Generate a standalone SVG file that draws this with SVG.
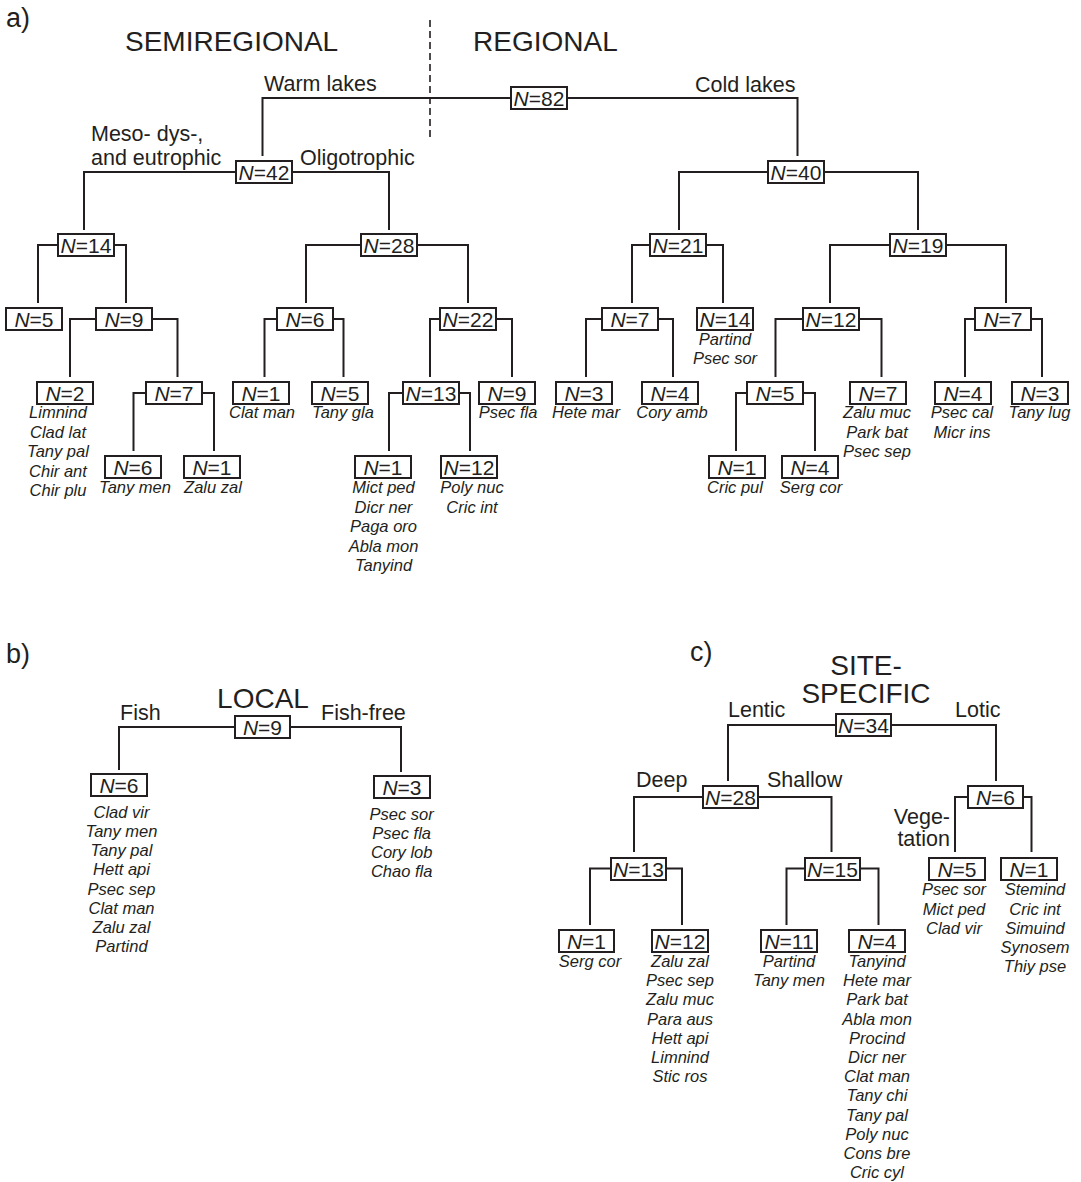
<svg xmlns="http://www.w3.org/2000/svg" width="1081" height="1182" viewBox="0 0 1081 1182">
<style>
.ln{stroke:#231f20;stroke-width:2;fill:none}
.dash{stroke:#231f20;stroke-width:1.6;fill:none;stroke-dasharray:7 4}
.box{fill:#fff;stroke:#231f20;stroke-width:2}
text{font-family:"Liberation Sans",Arial,sans-serif;fill:#231f20}
.n{font-size:21px;text-anchor:middle}
.sp{font-size:16.5px;font-style:italic;text-anchor:middle}
.lb{font-size:21.5px}
.tt{font-size:28px}
.pl{font-size:27px}
</style>
<rect width="1081" height="1182" fill="#fff"/>

<!-- panel titles -->
<text class="pl" x="6" y="27">a)</text>
<text class="tt" x="125" y="51">SEMIREGIONAL</text>
<text class="tt" x="473" y="51">REGIONAL</text>
<line class="dash" x1="430" y1="20" x2="430" y2="138"/>
<text class="lb" x="264" y="91">Warm lakes</text>
<text class="lb" x="695" y="92">Cold lakes</text>
<text class="lb" x="91" y="141">Meso- dys-,</text>
<text class="lb" x="91" y="165">and eutrophic</text>
<text class="lb" x="300" y="165">Oligotrophic</text>

<text class="pl" x="6" y="663">b)</text>
<text class="tt" x="263" y="708" text-anchor="middle">LOCAL</text>
<text class="lb" x="120" y="720">Fish</text>
<text class="lb" x="321" y="720">Fish-free</text>

<text class="pl" x="690" y="661">c)</text>
<text class="tt" x="866" y="675" text-anchor="middle">SITE-</text>
<text class="tt" x="866" y="703" text-anchor="middle">SPECIFIC</text>
<text class="lb" x="728" y="717">Lentic</text>
<text class="lb" x="955" y="717">Lotic</text>
<text class="lb" x="636" y="787">Deep</text>
<text class="lb" x="767" y="787">Shallow</text>
<text class="lb" x="950" y="824" text-anchor="end">Vege-</text>
<text class="lb" x="950" y="846" text-anchor="end">tation</text>

<!-- connectors -->
<g id="connectors">
<path class="ln" d="M262.5,156 V98 H511 M567,98 H797.5 V156"/>
<path class="ln" d="M84,230 V172 H236 M292,172 H389 V230"/>
<path class="ln" d="M679,230 V172 H768 M824,172 H918 V230"/>
<path class="ln" d="M38,303 V245 H58 M114,245 H126 V303"/>
<path class="ln" d="M306,303 V245 H361 M417,245 H468 V303"/>
<path class="ln" d="M632,303 V245 H650 M706,245 H723 V303"/>
<path class="ln" d="M830,303 V245 H890 M946,245 H1006 V303"/>
<path class="ln" d="M70,377 V319 H96 M152,319 H177.5 V377"/>
<path class="ln" d="M264.5,377 V319 H277 M333,319 H343.5 V377"/>
<path class="ln" d="M430,377 V319 H440 M496,319 H512 V377"/>
<path class="ln" d="M586,377 V319 H602 M658,319 H673 V377"/>
<path class="ln" d="M775.5,377 V319 H803 M859,319 H881.5 V377"/>
<path class="ln" d="M965,377 V319 H975 M1031,319 H1042 V377"/>
<path class="ln" d="M133.5,451 V393 H146 M202,393 H214 V451"/>
<path class="ln" d="M389,451 V393 H403 M459,393 H470 V451"/>
<path class="ln" d="M736,451 V393 H747 M803,393 H815 V451"/>
<path class="ln" d="M119,770 V727 H235 M290,727 H401 V772"/>
<path class="ln" d="M728,781 V725 H836 M891,725 H996 V781"/>
<path class="ln" d="M634,852 V797 H703 M758,797 H831.5 V852"/>
<path class="ln" d="M955,852 V797 H968 M1023,797 H1031.5 V852"/>
<path class="ln" d="M590,925 V868.5 H611 M666,868.5 H682 V925"/>
<path class="ln" d="M786.5,925 V868.5 H805 M860,868.5 H878.5 V925"/>
</g>

<!-- panel a nodes -->
<g id="a82"><rect class="box" x="511" y="87" width="56" height="22"/><text class="n" x="539" y="105.5"><tspan font-style="italic">N</tspan>=82</text></g>
<g id="a42"><rect class="box" x="236" y="161" width="56" height="22"/><text class="n" x="264" y="179.5"><tspan font-style="italic">N</tspan>=42</text></g>
<g id="a40"><rect class="box" x="768" y="161" width="56" height="22"/><text class="n" x="796" y="179.5"><tspan font-style="italic">N</tspan>=40</text></g>
<g id="a14"><rect class="box" x="58" y="234" width="56" height="22"/><text class="n" x="86" y="252.5"><tspan font-style="italic">N</tspan>=14</text></g>
<g id="a28"><rect class="box" x="361" y="234" width="56" height="22"/><text class="n" x="389" y="252.5"><tspan font-style="italic">N</tspan>=28</text></g>
<g id="a21"><rect class="box" x="650" y="234" width="56" height="22"/><text class="n" x="678" y="252.5"><tspan font-style="italic">N</tspan>=21</text></g>
<g id="a19"><rect class="box" x="890" y="234" width="56" height="22"/><text class="n" x="918" y="252.5"><tspan font-style="italic">N</tspan>=19</text></g>

<g id="a5"><rect class="box" x="6" y="308" width="56" height="22"/><text class="n" x="34" y="326.5"><tspan font-style="italic">N</tspan>=5</text></g>
<g id="a9"><rect class="box" x="96" y="308" width="56" height="22"/><text class="n" x="124" y="326.5"><tspan font-style="italic">N</tspan>=9</text></g>
<g id="a6"><rect class="box" x="277" y="308" width="56" height="22"/><text class="n" x="305" y="326.5"><tspan font-style="italic">N</tspan>=6</text></g>
<g id="a22"><rect class="box" x="440" y="308" width="56" height="22"/><text class="n" x="468" y="326.5"><tspan font-style="italic">N</tspan>=22</text></g>
<g id="a7r"><rect class="box" x="602" y="308" width="56" height="22"/><text class="n" x="630" y="326.5"><tspan font-style="italic">N</tspan>=7</text></g>
<g id="a14r"><rect class="box" x="697" y="308" width="56" height="22"/><text class="n" x="725" y="326.5"><tspan font-style="italic">N</tspan>=14</text>
<text class="sp" x="725" y="345">Partind</text><text class="sp" x="725" y="364">Psec sor</text></g>
<g id="a12r"><rect class="box" x="803" y="308" width="56" height="22"/><text class="n" x="831" y="326.5"><tspan font-style="italic">N</tspan>=12</text></g>
<g id="a7rr"><rect class="box" x="975" y="308" width="56" height="22"/><text class="n" x="1003" y="326.5"><tspan font-style="italic">N</tspan>=7</text></g>

<g id="a2"><rect class="box" x="37" y="382" width="56" height="22"/><text class="n" x="65" y="400.5"><tspan font-style="italic">N</tspan>=2</text>
<text class="sp" x="58" y="418">Limnind</text><text class="sp" x="58" y="437.5">Clad lat</text><text class="sp" x="58" y="457">Tany pal</text><text class="sp" x="58" y="476.5">Chir ant</text><text class="sp" x="58" y="496">Chir plu</text></g>
<g id="a7l"><rect class="box" x="146" y="382" width="56" height="22"/><text class="n" x="174" y="400.5"><tspan font-style="italic">N</tspan>=7</text></g>
<g id="a1clat"><rect class="box" x="233" y="382" width="56" height="22"/><text class="n" x="261" y="400.5"><tspan font-style="italic">N</tspan>=1</text>
<text class="sp" x="262" y="418">Clat man</text></g>
<g id="a5tany"><rect class="box" x="312" y="382" width="56" height="22"/><text class="n" x="340" y="400.5"><tspan font-style="italic">N</tspan>=5</text>
<text class="sp" x="343" y="418">Tany gla</text></g>
<g id="a13"><rect class="box" x="403" y="382" width="56" height="22"/><text class="n" x="431" y="400.5"><tspan font-style="italic">N</tspan>=13</text></g>
<g id="a9psec"><rect class="box" x="479" y="382" width="56" height="22"/><text class="n" x="507" y="400.5"><tspan font-style="italic">N</tspan>=9</text>
<text class="sp" x="508" y="418">Psec fla</text></g>
<g id="a3hete"><rect class="box" x="556" y="382" width="56" height="22"/><text class="n" x="584" y="400.5"><tspan font-style="italic">N</tspan>=3</text>
<text class="sp" x="586" y="418">Hete mar</text></g>
<g id="a4cory"><rect class="box" x="642" y="382" width="56" height="22"/><text class="n" x="670" y="400.5"><tspan font-style="italic">N</tspan>=4</text>
<text class="sp" x="672" y="418">Cory amb</text></g>
<g id="a5r"><rect class="box" x="747" y="382" width="56" height="22"/><text class="n" x="775" y="400.5"><tspan font-style="italic">N</tspan>=5</text></g>
<g id="a7zalu"><rect class="box" x="850" y="382" width="56" height="22"/><text class="n" x="878" y="400.5"><tspan font-style="italic">N</tspan>=7</text>
<text class="sp" x="877" y="418">Zalu muc</text><text class="sp" x="877" y="437.5">Park bat</text><text class="sp" x="877" y="457">Psec sep</text></g>
<g id="a4psec"><rect class="box" x="935" y="382" width="56" height="22"/><text class="n" x="963" y="400.5"><tspan font-style="italic">N</tspan>=4</text>
<text class="sp" x="962" y="418">Psec cal</text><text class="sp" x="962" y="437.5">Micr ins</text></g>
<g id="a3tany"><rect class="box" x="1012" y="382" width="56" height="22"/><text class="n" x="1040" y="400.5"><tspan font-style="italic">N</tspan>=3</text>
<text class="sp" x="1039.5" y="418">Tany lug</text></g>

<g id="a6tany"><rect class="box" x="105" y="456" width="56" height="22"/><text class="n" x="133" y="474.5"><tspan font-style="italic">N</tspan>=6</text>
<text class="sp" x="135" y="493">Tany men</text></g>
<g id="a1zalu"><rect class="box" x="184" y="456" width="56" height="22"/><text class="n" x="212" y="474.5"><tspan font-style="italic">N</tspan>=1</text>
<text class="sp" x="213" y="493">Zalu zal</text></g>
<g id="a1mict"><rect class="box" x="355" y="456" width="56" height="22"/><text class="n" x="383" y="474.5"><tspan font-style="italic">N</tspan>=1</text>
<text class="sp" x="383.5" y="493">Mict ped</text><text class="sp" x="383.5" y="512.5">Dicr ner</text><text class="sp" x="383.5" y="532">Paga oro</text><text class="sp" x="383.5" y="551.5">Abla mon</text><text class="sp" x="383.5" y="571">Tanyind</text></g>
<g id="a12poly"><rect class="box" x="441" y="456" width="56" height="22"/><text class="n" x="469" y="474.5"><tspan font-style="italic">N</tspan>=12</text>
<text class="sp" x="472" y="493">Poly nuc</text><text class="sp" x="472" y="512.5">Cric int</text></g>
<g id="a1cric"><rect class="box" x="709" y="456" width="56" height="22"/><text class="n" x="737" y="474.5"><tspan font-style="italic">N</tspan>=1</text>
<text class="sp" x="735" y="493">Cric pul</text></g>
<g id="a4serg"><rect class="box" x="782" y="456" width="56" height="22"/><text class="n" x="810" y="474.5"><tspan font-style="italic">N</tspan>=4</text>
<text class="sp" x="811" y="493">Serg cor</text></g>

<!-- panel b nodes -->
<g id="b9"><rect class="box" x="235" y="716" width="55" height="22"/><text class="n" x="262.5" y="734.5"><tspan font-style="italic">N</tspan>=9</text></g>
<g id="b6"><rect class="box" x="91" y="774" width="56" height="22"/><text class="n" x="119" y="792.5"><tspan font-style="italic">N</tspan>=6</text>
<text class="sp" x="121.5" y="818">Clad vir</text><text class="sp" x="121.5" y="837.2">Tany men</text><text class="sp" x="121.5" y="856.3">Tany pal</text><text class="sp" x="121.5" y="875.4">Hett api</text><text class="sp" x="121.5" y="894.5">Psec sep</text><text class="sp" x="121.5" y="913.6">Clat man</text><text class="sp" x="121.5" y="932.7">Zalu zal</text><text class="sp" x="121.5" y="951.8">Partind</text></g>
<g id="b3"><rect class="box" x="374" y="776" width="56" height="22"/><text class="n" x="402" y="794.5"><tspan font-style="italic">N</tspan>=3</text>
<text class="sp" x="401.7" y="820">Psec sor</text><text class="sp" x="401.7" y="839">Psec fla</text><text class="sp" x="401.7" y="858">Cory lob</text><text class="sp" x="401.7" y="877">Chao fla</text></g>

<!-- panel c nodes -->
<g id="c34"><rect class="box" x="836" y="714" width="55" height="22"/><text class="n" x="863.5" y="732.5"><tspan font-style="italic">N</tspan>=34</text></g>
<g id="c28"><rect class="box" x="703" y="786" width="55" height="22"/><text class="n" x="730.5" y="804.5"><tspan font-style="italic">N</tspan>=28</text></g>
<g id="c6"><rect class="box" x="968" y="786" width="55" height="22"/><text class="n" x="995.5" y="804.5"><tspan font-style="italic">N</tspan>=6</text></g>
<g id="c13"><rect class="box" x="611" y="858" width="55" height="22"/><text class="n" x="638.5" y="876.5"><tspan font-style="italic">N</tspan>=13</text></g>
<g id="c15"><rect class="box" x="805" y="858" width="55" height="22"/><text class="n" x="832.5" y="876.5"><tspan font-style="italic">N</tspan>=15</text></g>
<g id="c5"><rect class="box" x="929" y="858" width="56" height="22"/><text class="n" x="957" y="876.5"><tspan font-style="italic">N</tspan>=5</text>
<text class="sp" x="954" y="895">Psec sor</text><text class="sp" x="954" y="914.5">Mict ped</text><text class="sp" x="954" y="934">Clad vir</text></g>
<g id="c1r"><rect class="box" x="1001" y="858" width="56" height="22"/><text class="n" x="1029" y="876.5"><tspan font-style="italic">N</tspan>=1</text>
<text class="sp" x="1035" y="895">Stemind</text><text class="sp" x="1035" y="914.5">Cric int</text><text class="sp" x="1035" y="934">Simuind</text><text class="sp" x="1035" y="953">Synosem</text><text class="sp" x="1035" y="972">Thiy pse</text></g>
<g id="c1serg"><rect class="box" x="559" y="930" width="55" height="22"/><text class="n" x="586.5" y="948.5"><tspan font-style="italic">N</tspan>=1</text>
<text class="sp" x="590" y="967">Serg cor</text></g>
<g id="c12"><rect class="box" x="652" y="930" width="56" height="22"/><text class="n" x="680" y="948.5"><tspan font-style="italic">N</tspan>=12</text>
<text class="sp" x="680" y="967">Zalu zal</text><text class="sp" x="680" y="986.2">Psec sep</text><text class="sp" x="680" y="1005.4">Zalu muc</text><text class="sp" x="680" y="1024.6">Para aus</text><text class="sp" x="680" y="1043.8">Hett api</text><text class="sp" x="680" y="1063">Limnind</text><text class="sp" x="680" y="1082.2">Stic ros</text></g>
<g id="c11"><rect class="box" x="761" y="930" width="56" height="22"/><text class="n" x="789" y="948.5"><tspan font-style="italic">N</tspan>=11</text>
<text class="sp" x="789" y="967">Partind</text><text class="sp" x="789" y="986.2">Tany men</text></g>
<g id="c4"><rect class="box" x="849" y="930" width="56" height="22"/><text class="n" x="877" y="948.5"><tspan font-style="italic">N</tspan>=4</text>
<text class="sp" x="877" y="967">Tanyind</text><text class="sp" x="877" y="986.2">Hete mar</text><text class="sp" x="877" y="1005.4">Park bat</text><text class="sp" x="877" y="1024.6">Abla mon</text><text class="sp" x="877" y="1043.8">Procind</text><text class="sp" x="877" y="1063">Dicr ner</text><text class="sp" x="877" y="1082.2">Clat man</text><text class="sp" x="877" y="1101.4">Tany chi</text><text class="sp" x="877" y="1120.6">Tany pal</text><text class="sp" x="877" y="1139.8">Poly nuc</text><text class="sp" x="877" y="1159">Cons bre</text><text class="sp" x="877" y="1178.2">Cric cyl</text></g>
</svg>
